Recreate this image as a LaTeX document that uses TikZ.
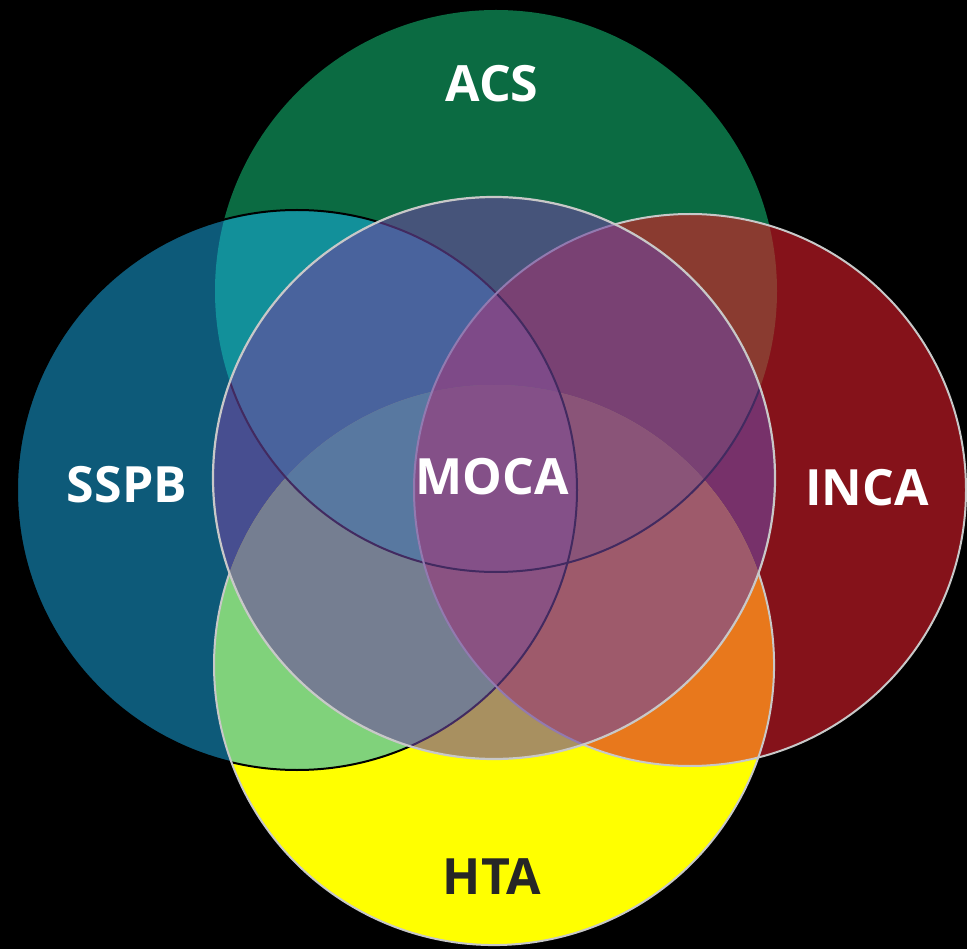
\documentclass[tikz,border=0pt]{standalone}
\usepackage{fontspec}
\setmainfont{Open Sans}
\definecolor{cA}{HTML}{0B6B42}
\definecolor{cS}{HTML}{0D5A79}
\definecolor{cI}{HTML}{85121A}
\definecolor{cH}{HTML}{FFFF00}
\definecolor{cAS}{HTML}{12909A}
\definecolor{cAI}{HTML}{8A3B30}
\definecolor{cSH}{HTML}{80D27B}
\definecolor{cIH}{HTML}{E8781C}
\definecolor{cSI}{HTML}{A05A80}
\definecolor{cAH}{HTML}{60A080}
\definecolor{cASI}{RGB}{150,80,100}
\definecolor{cASH}{RGB}{55,195,160}
\definecolor{cAIH}{RGB}{180,107,60}
\definecolor{cSIH}{RGB}{182,100,85}
\definecolor{cASIH}{RGB}{165,95,102}
\definecolor{cM}{RGB}{110,70,160}
\definecolor{lineL}{HTML}{C8C8C8}
\definecolor{txtdark}{HTML}{262626}
\def\cirA{(496,291) circle[radius=281]}
\def\cirS{(297,490) circle[radius=280]}
\def\cirI{(690,490) circle[radius=276]}
\def\cirH{(494,665) circle[radius=280]}
\def\cirM{(494,478) circle[radius=281]}
\tikzset{
  lbl/.style={font=\fontsize{50}{60}\selectfont\bfseries, text=white, inner sep=0pt},
  darkedge/.style={draw=black, line width=2pt},
  lightedge/.style={draw=lineL, line width=2pt},
}
\begin{document}
\begin{tikzpicture}[x=1pt,y=-1pt]
\useasboundingbox (0,0) rectangle (967,949);
\fill[black] (0,0) rectangle (967,949);
% singles
\fill[cA] \cirA;
\fill[cS] \cirS;
\fill[cI] \cirI;
\fill[cH] \cirH;
% pairs
\begin{scope}\clip \cirA; \fill[cAS] \cirS; \end{scope}
\begin{scope}\clip \cirA; \fill[cAI] \cirI; \end{scope}
\begin{scope}\clip \cirA; \fill[cAH] \cirH; \end{scope}
\begin{scope}\clip \cirS; \fill[cSI] \cirI; \end{scope}
\begin{scope}\clip \cirS; \fill[cSH] \cirH; \end{scope}
\begin{scope}\clip \cirI; \fill[cIH] \cirH; \end{scope}
% triples
\begin{scope}\clip \cirA; \clip \cirS; \fill[cASI] \cirI; \end{scope}
\begin{scope}\clip \cirA; \clip \cirS; \fill[cASH] \cirH; \end{scope}
\begin{scope}\clip \cirA; \clip \cirI; \fill[cAIH] \cirH; \end{scope}
\begin{scope}\clip \cirS; \clip \cirI; \fill[cSIH] \cirH; \end{scope}
% quadruple
\begin{scope}\clip \cirA; \clip \cirS; \clip \cirI; \fill[cASIH] \cirH; \end{scope}
% outlines
\begin{scope}\clip \cirM; \draw[darkedge] \cirA; \end{scope}
\draw[darkedge] \cirS;
\draw[lightedge] \cirI;
\draw[lightedge] (494,665) ++(-19.2:280) arc[start angle=-19.2, end angle=199.2, radius=280];
% MOCA overlay
\fill[cM, fill opacity=0.6] \cirM;
\draw[lightedge, line width=2.2pt] \cirM;
% labels
\node[lbl] (acs) at (492,84) {ACS};
\node[lbl] (sspb) at (127,485) {SSPB};
\node[lbl] (inca) at (867,488) {INCA};
\node[lbl] (moca) at (492,477) {MOCA};
\node[lbl, text=txtdark] (hta) at (492,877) {HTA};
\end{tikzpicture}
\end{document}
